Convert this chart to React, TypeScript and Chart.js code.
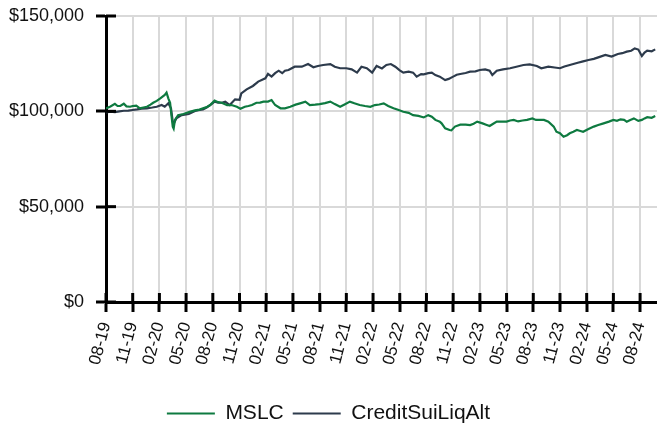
import React, { useEffect, useRef } from 'react';
import { Chart, registerables } from 'chart.js';

Chart.register(...registerables);

// x positions are months elapsed since Aug 2019
const mslcMonths = [
  0, 0.5, 1, 1.3, 1.6, 2, 2.3, 2.7, 3, 3.4, 3.8, 4.2, 4.6, 5, 5.3, 5.7, 6.1, 6.6, 6.8, 7, 7.2, 7.35, 7.5, 7.6, 7.75,
  8.1, 8.7, 9.4, 10, 10.5, 10.9, 11.3, 11.7, 12.2, 12.6, 13, 13.6, 14.1, 14.7, 15.1, 15.6, 16, 16.4, 16.9, 17.3, 17.7,
  18.2, 18.6, 19, 19.6, 20.1, 20.7, 21.3, 21.8, 22.4, 22.9, 23.5, 24, 24.6, 25.2, 25.7, 26.3, 26.8, 27.4, 27.9, 28.5,
  29.1, 29.7, 30.2, 30.7, 31.2, 31.7, 32.3, 32.8, 33.4, 34, 34.5, 35.1, 35.7, 36.2, 36.6, 37, 37.5, 37.7, 38.1, 38.6,
  38.8, 39.2, 39.8, 40.4, 40.9, 41.3, 41.7, 42.3, 42.7, 43.1, 43.5, 43.9, 44.5, 45, 45.4, 45.8, 46.3, 46.8, 47.3, 47.9,
  48.3, 48.6, 49.2, 49.7, 50.3, 50.6, 51, 51.4, 51.8, 52.1, 52.5, 52.9, 53.2, 53.6, 54.2, 54.8, 55.3, 55.9, 56.5, 57,
  57.4, 57.8, 58.2, 58.5, 58.9, 59.3, 59.8, 60.2, 60.5, 60.8, 61.3, 61.7,
];
const mslcValues = [
  101500, 102500, 103900, 102800, 102800, 104000, 102600, 102400, 102800, 103000, 101600, 102000, 102400, 103500, 104500,
  105500, 106800, 108600, 109800, 106800, 104500, 98000, 92000, 91000, 95500,
  98000, 98600, 99700, 100500, 100900, 101600, 102200, 103300, 105600, 104800, 104500, 103300, 103300, 102400, 101400,
  102400, 102800, 103300, 104500, 104600, 105100,
  105100, 105900, 103300, 101600, 101600, 102400, 103500, 104200, 105100, 103300, 103500, 103800, 104300, 105100, 103800,
  102400, 103600, 105100, 104200, 103300,
  102800, 102400, 103300, 103600, 104200, 102800, 101600, 100800, 99800, 99200, 98000, 97600, 96800, 98000, 97200, 95500,
  94600, 93700, 91100, 90200,
  90000, 92000, 93000, 93000, 92800, 93500, 94600, 93700, 93000, 92300, 93500, 94600, 94600, 94600, 95200, 95500, 94700,
  95200, 95500, 96300,
  95500, 95500, 95500, 94600, 92000, 89300, 88500, 86700, 87500, 88500, 89300, 90200, 89800, 89300, 90700, 92000, 92800,
  93700, 94600, 95500,
  95000, 95800, 95500, 94600, 95500, 96300, 95000, 95500, 96300, 96900, 96600, 97500,
];

const csMonths = [
  0, 0.5, 1, 1.5, 2, 2.5, 3, 3.5, 4, 4.6, 5.2, 5.7, 6.25, 6.6, 7, 7.3, 7.5, 7.6, 7.9, 8.5, 9.3, 10, 10.5, 10.9, 11.3,
  11.7, 12.2, 12.6, 13, 13.4, 13.9, 14.5, 15, 15.2, 15.8, 16.5, 17.1, 17.9, 18.2, 18.6, 19, 19.4, 19.8, 20.1, 20.5, 21.2,
  22, 22.7, 23.3, 23.8, 24.4, 25.2, 25.7, 26.3, 27, 27.6, 28.2, 28.7, 29.3, 29.9, 30.4, 31, 31.5, 32, 32.5, 33, 33.4, 34,
  34.5, 34.9, 35.4, 35.7, 36.2, 36.6, 37, 37.5, 38.1, 38.5, 39, 39.4, 39.8, 40.4, 40.9, 41.5, 42, 42.6, 43.1, 43.4, 43.9,
  44.6, 45.4, 46.1, 46.9, 47.6, 48.4, 48.9, 49.7, 50.4, 51, 51.5, 52.1, 53, 53.6, 54.2, 54.8, 55.3, 56.1, 56.8, 57.5, 58,
  58.5, 59, 59.4, 59.8, 60.2, 60.5, 60.8, 61.3, 61.7,
];
const csValues = [
  99500, 99800, 99600, 100000, 100300, 100400, 100700, 101000, 101400, 101600, 102000, 102400, 103300, 102400, 104200,
  101600, 94600, 93500, 96300, 98000, 98600, 100200, 100700, 101000, 102000,
  103300, 105100, 104600, 104500, 105100, 103300, 106300, 106000, 109400, 111500, 113300, 115600, 117300, 119600, 118200,
  120000, 121300, 120000, 121300, 121700, 123400,
  123400, 124800, 123100, 123800, 124300, 124800, 123400, 122600, 122600, 122000, 120300, 123400, 122600, 120300, 123800,
  122500, 124300, 124800, 123400, 121500, 120300, 120800,
  120300, 118200, 119500, 119400, 120000, 120300, 119000, 118200, 116400, 117000, 118200, 119200, 119600, 120100, 120800,
  121000, 121700, 122000, 121300, 119000, 121300,
  122000, 122600, 123400, 124300, 124600, 123800, 122600, 123400, 123000, 122600, 123500, 124300, 125500, 126200, 126900,
  127500, 128300, 129600, 128700, 130100, 130500,
  131300, 131800, 133000, 132400, 129000, 130800, 131800, 131500, 132500,
];

const xTickLabels = [
  '08-19', '11-19', '02-20', '05-20', '08-20', '11-20', '02-21', '05-21', '08-21', '11-21', '02-22',
  '05-22', '08-22', '11-22', '02-23', '05-23', '08-23', '11-23', '02-24', '05-24', '08-24',
];
const yTicks = [0, 50000, 100000, 150000];

const seriesNames = ['MSLC', 'CreditSuiLiqAlt'];
const seriesColors = ['#0e7a40', '#2d3b4c'];

const innerTicks = {
  id: 'innerTicks',
  afterDraw(chart: any) {
    const { ctx, chartArea, scales } = chart;
    ctx.save();
    ctx.strokeStyle = '#000';
    ctx.lineWidth = 3;
    scales.x.ticks.forEach((t: any) => {
      const px = scales.x.getPixelForValue(t.value);
      ctx.beginPath();
      ctx.moveTo(px, chartArea.bottom);
      ctx.lineTo(px, chartArea.bottom - 9);
      ctx.stroke();
    });
    scales.y.ticks.forEach((t: any) => {
      const py = scales.y.getPixelForValue(t.value);
      ctx.beginPath();
      ctx.moveTo(chartArea.left, py);
      ctx.lineTo(chartArea.left + 10, py);
      ctx.stroke();
    });
    ctx.restore();
  },
};

export default function App() {
  const ref = useRef<HTMLCanvasElement | null>(null);

  useEffect(() => {
    if (!ref.current) return;
    Chart.defaults.font.family = "'Liberation Sans', Arial, sans-serif";
    Chart.defaults.color = '#111';
    const mk = (xs: number[], ys: number[]) => xs.map((x, i) => ({ x, y: ys[i] }));
    const chart = new Chart(ref.current, {
      type: 'line',
      data: {
        datasets: [
          {
            label: seriesNames[0],
            data: mk(mslcMonths, mslcValues),
            borderColor: seriesColors[0],
            backgroundColor: seriesColors[0],
            borderWidth: 2.2,
            pointRadius: 0,
            tension: 0,
          },
          {
            label: seriesNames[1],
            data: mk(csMonths, csValues),
            borderColor: seriesColors[1],
            backgroundColor: seriesColors[1],
            borderWidth: 2.2,
            pointRadius: 0,
            tension: 0,
          },
        ],
      },
      options: {
        animation: false,
        responsive: true,
        maintainAspectRatio: false,
        layout: { padding: { top: 16, right: 0, left: 0, bottom: -6 } },
        plugins: {
          tooltip: { enabled: false },
          legend: {
            position: 'bottom',
            labels: {
              boxWidth: 48,
              boxHeight: 0,
              padding: 9,
              color: '#111',
              font: { size: 21 },
            },
          },
        },
        scales: {
          x: {
            type: 'linear',
            min: 0,
            max: 61.9,
            afterFit: (s: any) => {
              s.height = 92;
              s.paddingLeft = 0;
              s.paddingRight = 0;
            },
            border: { color: '#000', width: 3 },
            grid: {
              color: '#d9d9d9',
              lineWidth: 2,
              tickColor: '#000',
              tickWidth: 3,
              tickLength: 10,
            },
            ticks: {
              stepSize: 3,
              includeBounds: false,
              autoSkip: false,
              minRotation: 75,
              maxRotation: 75,
              padding: 8,
              color: '#111',
              font: { size: 17 },
              callback: (v: any) => {
                const idx = Math.round(Number(v) / 3);
                return xTickLabels[idx] ?? '';
              },
            },
          },
          y: {
            min: yTicks[0],
            max: yTicks[yTicks.length - 1],
            afterFit: (s: any) => {
              s.width = 106;
              s.paddingTop = 0;
              s.paddingBottom = 0;
            },
            afterBuildTicks: (s: any) => {
              s.ticks = yTicks.map((value) => ({ value }));
            },
            border: { color: '#000', width: 3 },
            grid: {
              color: '#d9d9d9',
              lineWidth: 2,
              tickColor: '#000',
              tickWidth: 3,
              tickLength: 10,
            },
            ticks: {
              padding: 12,
              color: '#111',
              font: { size: 18 },
              callback: (v: any) => '$' + Number(v).toLocaleString('en-US'),
            },
          },
        },
      },
      plugins: [innerTicks],
    });
    return () => chart.destroy();
  }, []);

  return (
    <div style={{ position: 'absolute', left: 0, top: 0, width: 657, height: 428 }}>
      <canvas ref={ref} />
    </div>
  );
}
